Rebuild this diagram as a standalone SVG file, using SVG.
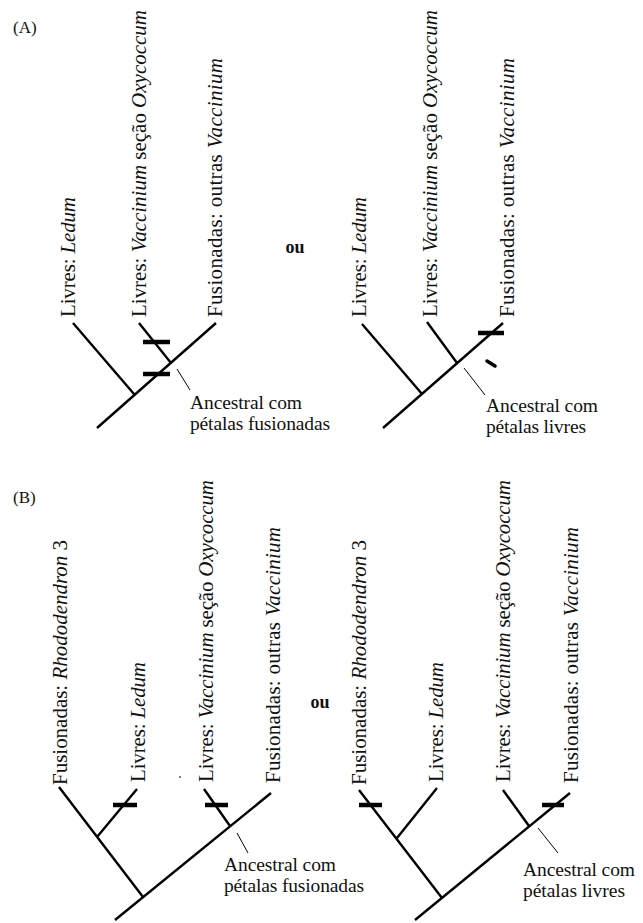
<svg xmlns="http://www.w3.org/2000/svg" width="643" height="923" viewBox="0 0 643 923">
  <style>
    .br { stroke: #000; stroke-width: 2.4; fill: none; }
    .bar { stroke: #000; stroke-width: 4.5; }
    .ptr { stroke: #000; stroke-width: 1; }
    .t { font-family: 'Liberation Serif', 'Times New Roman', serif; fill: #111; }
    .leaf { font-size: 21px; }
    .anc { font-size: 19.5px; }
    .ou { font-size: 18px; font-weight: bold; text-anchor: middle; }
    .panel { font-size: 17px; }
    .i { font-style: italic; }
  </style>
  <rect width="643" height="923" fill="#fff"/>

  <g class="t">
    <!-- Panel letters and the "or" between alternative trees -->
    <text class="panel" x="13" y="33">(A)</text>
    <text class="panel" x="13" y="503">(B)</text>
    <text class="ou" x="295" y="253">ou</text>
    <text class="ou" x="320" y="708">ou</text>

    <!-- ===== Panel A, left tree ===== -->
    <g id="a1-ledum"><text class="leaf" transform="translate(75,317) rotate(-90)" textLength="120" lengthAdjust="spacing">Livres: <tspan class="i">Ledum</tspan></text></g>
    <g id="a1-oxy"><text class="leaf" transform="translate(146,317) rotate(-90)" textLength="307" lengthAdjust="spacing">Livres: <tspan class="i">Vaccinium</tspan> seção <tspan class="i">Oxycoccum</tspan></text></g>
    <g id="a1-vacc"><text class="leaf" transform="translate(222,317) rotate(-90)" textLength="259" lengthAdjust="spacing">Fusionadas: outras <tspan class="i">Vaccinium</tspan></text></g>
    <g id="a1-anc"><text class="anc" x="190" y="409" textLength="112" lengthAdjust="spacing">Ancestral com</text><text class="anc" x="190" y="430" textLength="140" lengthAdjust="spacing">pétalas fusionadas</text></g>

    <!-- ===== Panel A, right tree ===== -->
    <g id="a2-ledum"><text class="leaf" transform="translate(366,317) rotate(-90)" textLength="120" lengthAdjust="spacing">Livres: <tspan class="i">Ledum</tspan></text></g>
    <g id="a2-oxy"><text class="leaf" transform="translate(437,317) rotate(-90)" textLength="307" lengthAdjust="spacing">Livres: <tspan class="i">Vaccinium</tspan> seção <tspan class="i">Oxycoccum</tspan></text></g>
    <g id="a2-vacc"><text class="leaf" transform="translate(514,317) rotate(-90)" textLength="259" lengthAdjust="spacing">Fusionadas: outras <tspan class="i">Vaccinium</tspan></text></g>
    <g id="a2-anc"><text class="anc" x="486" y="412" textLength="112" lengthAdjust="spacing">Ancestral com</text><text class="anc" x="486" y="433" textLength="100" lengthAdjust="spacing">pétalas livres</text></g>

    <!-- ===== Panel B, left tree ===== -->
    <g id="b1-rhodo"><text class="leaf" transform="translate(67,785) rotate(-90)" textLength="245" lengthAdjust="spacing">Fusionadas: <tspan class="i">Rhododendron</tspan> 3</text></g>
    <g id="b1-ledum"><text class="leaf" transform="translate(145,782) rotate(-90)" textLength="120" lengthAdjust="spacing">Livres: <tspan class="i">Ledum</tspan></text></g>
    <g id="b1-oxy"><text class="leaf" transform="translate(213,782) rotate(-90)" textLength="302" lengthAdjust="spacing">Livres: <tspan class="i">Vaccinium</tspan> seção <tspan class="i">Oxycoccum</tspan></text></g>
    <g id="b1-vacc"><text class="leaf" transform="translate(280,783) rotate(-90)" textLength="256" lengthAdjust="spacing">Fusionadas: outras <tspan class="i">Vaccinium</tspan></text></g>
    <g id="b1-anc"><text class="anc" x="224" y="871" textLength="112" lengthAdjust="spacing">Ancestral com</text><text class="anc" x="224" y="892" textLength="140" lengthAdjust="spacing">pétalas fusionadas</text></g>

    <!-- ===== Panel B, right tree ===== -->
    <g id="b2-rhodo"><text class="leaf" transform="translate(366,785) rotate(-90)" textLength="245" lengthAdjust="spacing">Fusionadas: <tspan class="i">Rhododendron</tspan> 3</text></g>
    <g id="b2-ledum"><text class="leaf" transform="translate(443,782) rotate(-90)" textLength="120" lengthAdjust="spacing">Livres: <tspan class="i">Ledum</tspan></text></g>
    <g id="b2-oxy"><text class="leaf" transform="translate(510,782) rotate(-90)" textLength="302" lengthAdjust="spacing">Livres: <tspan class="i">Vaccinium</tspan> seção <tspan class="i">Oxycoccum</tspan></text></g>
    <g id="b2-vacc"><text class="leaf" transform="translate(578,783) rotate(-90)" textLength="256" lengthAdjust="spacing">Fusionadas: outras <tspan class="i">Vaccinium</tspan></text></g>
    <g id="b2-anc"><text class="anc" x="523" y="876" textLength="112" lengthAdjust="spacing">Ancestral com</text><text class="anc" x="523" y="897" textLength="102" lengthAdjust="spacing">pétalas livres</text></g>
  </g>

  <!-- Branches, character-change bars and pointer lines -->
  <g id="connectors">
    <!-- A left -->
    <path class="br" d="M216,323 L97,428 M73,323 L134,394 M139,323 L171,363"/>
    <line class="bar" x1="143" y1="342" x2="170" y2="342"/>
    <line class="bar" x1="143" y1="374" x2="170" y2="374"/>
    <line class="ptr" x1="177" y1="369" x2="190" y2="390"/>
    <!-- A right -->
    <path class="br" d="M503,323 L383,428 M362,324 L422,394 M427,322 L457,363"/>
    <line class="bar" x1="478" y1="333" x2="504" y2="333"/>
    <line x1="487" y1="361" x2="495" y2="366" stroke="#000" stroke-width="3.5" stroke-linecap="round"/>
    <line class="ptr" x1="464" y1="368" x2="485" y2="395"/>
    <!-- B left -->
    <path class="br" d="M271,793 L115,920 M59,787 L143,897 M137,789 L97,837 M204,789 L230,826"/>
    <line class="bar" x1="113" y1="805" x2="137" y2="805"/>
    <line class="bar" x1="205" y1="805" x2="228" y2="805"/>
    <line class="ptr" x1="237" y1="833" x2="248" y2="853"/>
    <circle cx="180" cy="777" r="0.9" fill="#444"/>
    <!-- B right -->
    <path class="br" d="M570,793 L415,920 M359,790 L442,898 M437,788 L397,838 M503,790 L529,826"/>
    <line class="bar" x1="359" y1="805" x2="382" y2="805"/>
    <line class="bar" x1="542" y1="805" x2="564" y2="805"/>
    <line class="ptr" x1="538" y1="828" x2="558" y2="853"/>
  </g>
</svg>
